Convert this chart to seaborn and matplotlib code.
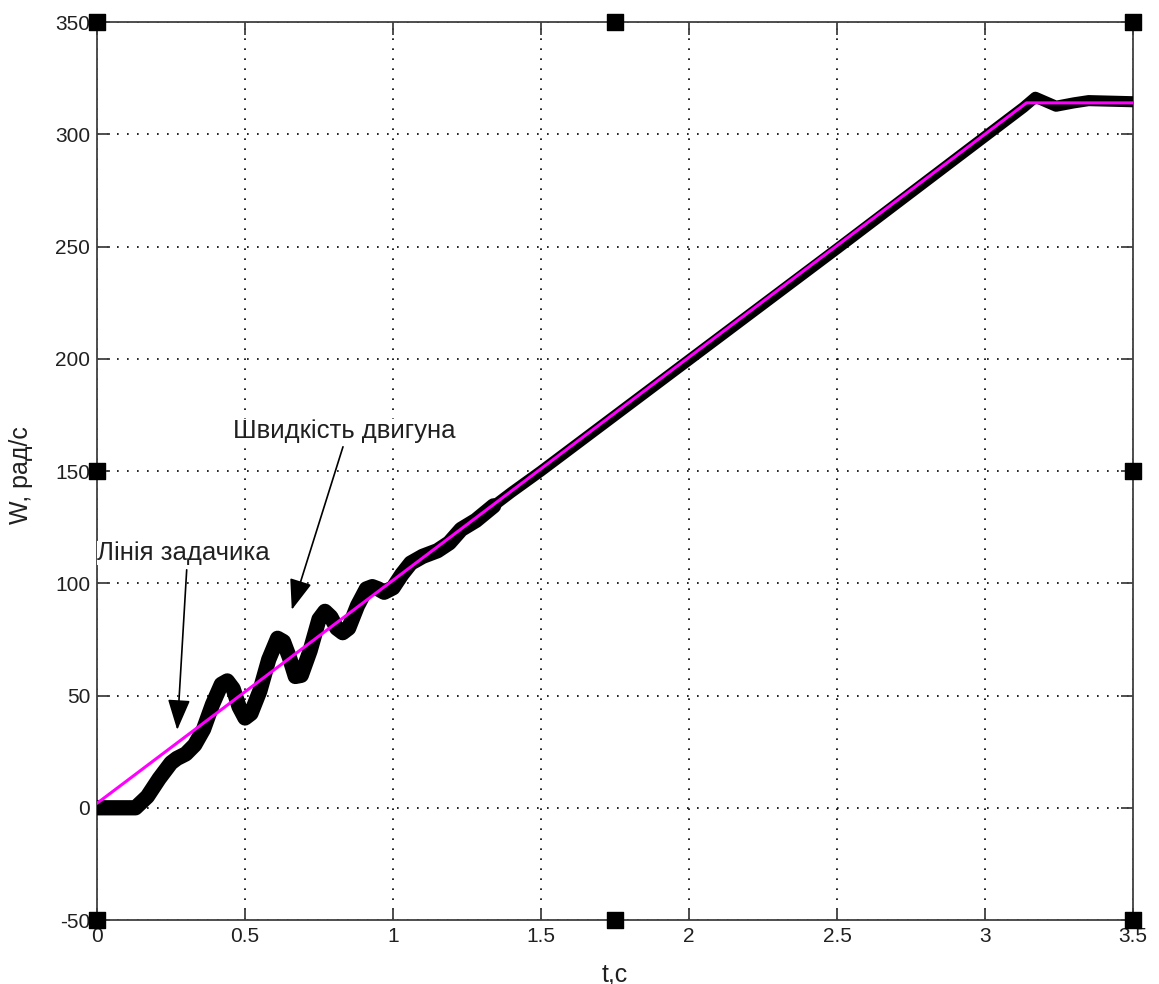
import numpy as np
import pandas as pd
import matplotlib
matplotlib.use("Agg")
import matplotlib.pyplot as plt
import seaborn as sns

# ---- data ----
ref_t = [0.0, 3.14, 3.5]
ref_w = [2.0, 314.0, 314.0]

motor_t = [0.00, 0.13, 0.17, 0.21, 0.25, 0.27, 0.30, 0.33, 0.36, 0.39, 0.42, 0.44,
           0.46, 0.48, 0.50, 0.52, 0.55, 0.58, 0.61, 0.63, 0.65, 0.67, 0.69, 0.72,
           0.75, 0.77, 0.79, 0.81, 0.83, 0.85, 0.88, 0.91, 0.93, 0.95, 0.97, 1.00,
           1.03, 1.06, 1.10, 1.15, 1.19, 1.23, 1.28, 1.34, 1.40, 1.50, 2.00, 2.50,
           3.00, 3.13, 3.17, 3.24, 3.30, 3.35, 3.50]
motor_w = [0.0, 0.0, 5.0, 13.0, 20.0, 22.0, 24.0, 28.0, 35.0, 46.0, 55.0, 56.5,
           53.0, 45.0, 40.0, 42.0, 52.0, 66.0, 75.5, 74.0, 67.0, 58.5, 59.0, 70.0,
           84.0, 87.5, 85.0, 80.0, 78.0, 80.0, 90.0, 97.5, 98.5, 97.5, 96.0, 98.0,
           104.0, 109.0, 112.0, 114.5, 118.0, 124.0, 128.0, 134.5, 140.5, 150.0, 199.5, 249.0,
           299.0, 312.0, 316.5, 312.5, 314.0, 315.0, 314.5]

x_ticks = [0, 0.5, 1, 1.5, 2, 2.5, 3, 3.5]
x_tick_labels = ["0", "0.5", "1", "1.5", "2", "2.5", "3", "3.5"]
y_ticks = [-50, 0, 50, 100, 150, 200, 250, 300, 350]
y_tick_labels = ["-50", "0", "50", "100", "150", "200", "250", "300", "350"]

label_ref = "Лінія задачика"
label_motor = "Швидкість двигуна"
x_label = "t,c"
y_label = "W, рад/с"

# ---- style ----
sns.set_style("white")
plt.rcParams['font.family'] = ['Liberation Sans', 'DejaVu Sans']

fig = plt.figure(figsize=(11.59, 9.84), dpi=100)
ax = fig.add_axes([0.0837, 0.065, 0.8939, 0.9126])

df_motor = pd.DataFrame({"t": motor_t, "w": motor_w})
df_ref = pd.DataFrame({"t": ref_t, "w": ref_w})
early = df_motor[df_motor["t"] <= 1.34]
late = df_motor[df_motor["t"] >= 1.23]

sns.lineplot(data=late, x="t", y="w", ax=ax, color="black", linewidth=8,
             solid_joinstyle="round", solid_capstyle="round", sort=False, zorder=3)
sns.lineplot(data=early, x="t", y="w", ax=ax, color="black", linewidth=11,
             solid_joinstyle="round", solid_capstyle="round", sort=False, zorder=3)
sns.lineplot(data=df_ref, x="t", y="w", ax=ax, color="#FF00FF", linewidth=2.2,
             sort=False, zorder=4)

ax.set_xlim(0, 3.5)
ax.set_ylim(-50, 350)
ax.set_xticks(x_ticks)
ax.set_xticklabels(x_tick_labels)
ax.set_yticks(y_ticks)
ax.set_yticklabels(y_tick_labels)

ax.grid(True, color="black", linestyle=(0, (1, 5)), linewidth=1.2)
ax.set_axisbelow(True)

for s in ax.spines.values():
    s.set_color("#404040")
    s.set_linewidth(1.3)
    s.set_visible(True)

ax.tick_params(axis="both", which="both", direction="in", length=9, width=1.3,
               color="#404040", top=True, right=True, bottom=True, left=True,
               labelsize=15, labelcolor="#202020", pad=5)

ax.set_xlabel(x_label, fontsize=18, color="#202020")
ax.set_ylabel(y_label, fontsize=18, color="#202020")
ax.xaxis.set_label_coords(0.5, -0.047)
ax.yaxis.set_label_coords(-0.062, 0.4955)

# annotations
ax.text(0.0, 113.6, label_ref, fontsize=18.5, ha="left", va="center", color="#202020",
        bbox=dict(facecolor="white", edgecolor="none", pad=0))
ax.text(0.459, 168, label_motor, fontsize=18.5, ha="left", va="center", color="#202020",
        bbox=dict(facecolor="white", edgecolor="none", pad=0))
arrow_kw = dict(arrowstyle="-|>,head_length=0.95,head_width=0.35", color="black",
                lw=1.2, mutation_scale=20, shrinkA=0, shrinkB=0)
ax.annotate("", xy=(0.271, 34.7), xytext=(0.303, 106), arrowprops=arrow_kw)
ax.annotate("", xy=(0.658, 88.2), xytext=(0.831, 160.8), arrowprops=arrow_kw)

# selection handles (figure decoration)
hx = [0, 0.5, 1, 0, 1, 0, 0.5, 1]
hy = [1, 1, 1, 0.5, 0.5, 0, 0, 0]
ax.scatter(hx, hy, marker="s", s=140, color="black", transform=ax.transAxes,
           clip_on=False, zorder=10)

fig.savefig("out.png", dpi=100)
